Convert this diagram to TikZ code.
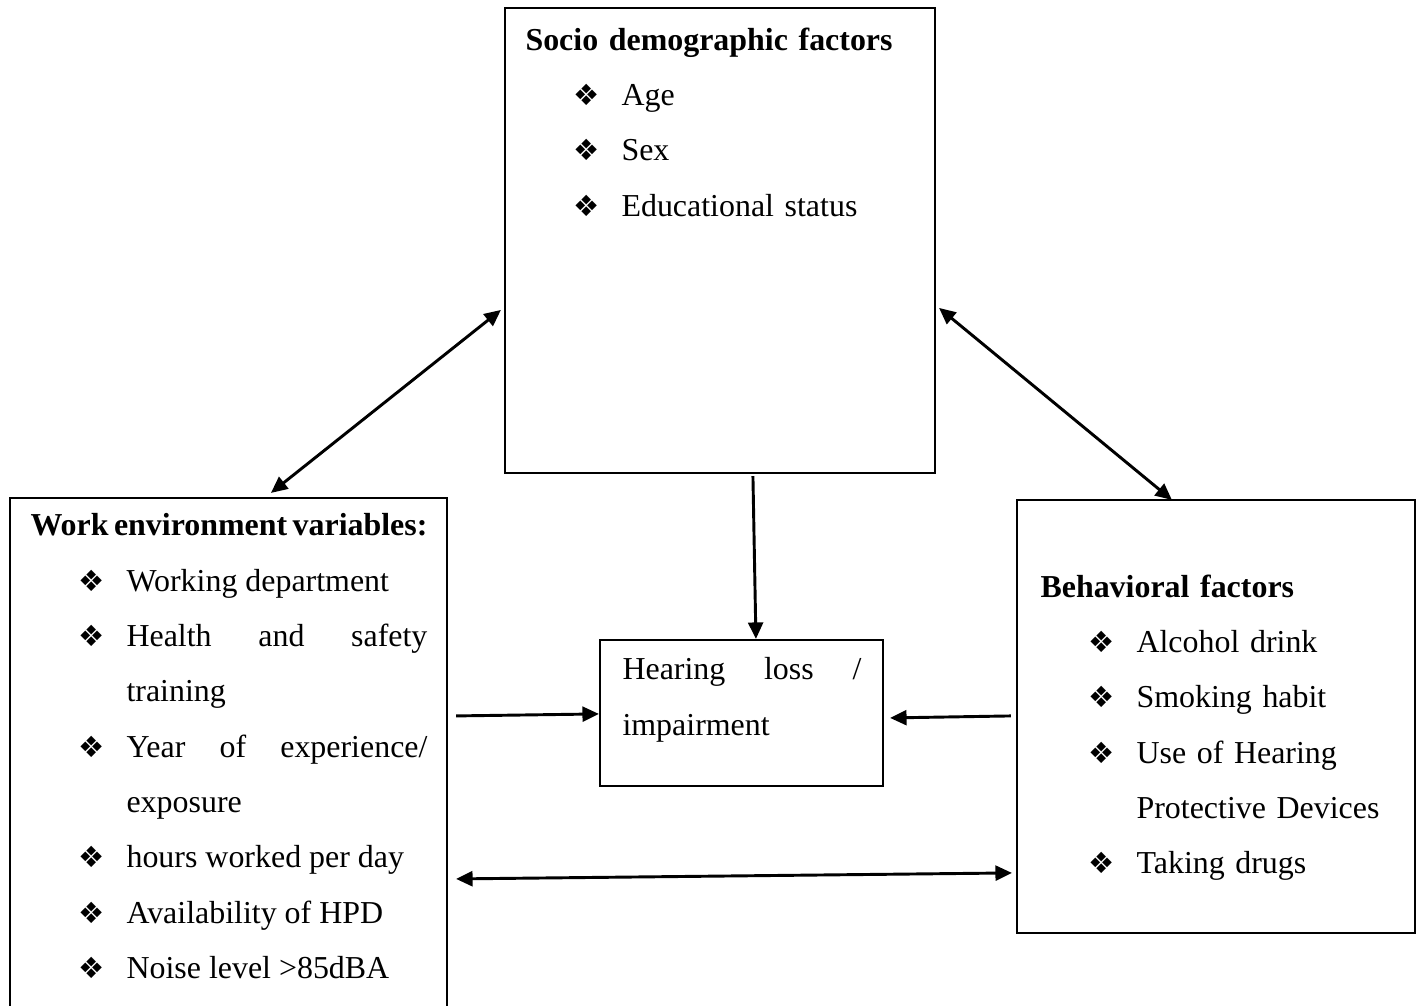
\documentclass[tikz,border=0pt]{standalone}
\usepackage{fontspec}
\setmainfont{Liberation Serif}
\newfontfamily\dingfont{DejaVu Sans}
\usetikzlibrary{arrows.meta,calc,fit}
\hyphenpenalty=10000
\tolerance=10000
\newcommand{\dingbul}{{\dingfont\fontsize{11}{11}\selectfont\char"2756\relax}}
\newcommand{\factoritem}{\par\leftskip=36.1pt\noindent\llap{\dingbul\hspace{8.3pt}}}
\tikzset{
  factorbox/.style={draw=black,line width=.8pt,inner sep=0pt},
  boxtext/.style={anchor=north west,inner sep=0pt,align=left,font=\fontsize{12}{20.8}\selectfont},
  link/.style={{Triangle[length=6.2pt,width=5.6pt]}-{Triangle[length=6.2pt,width=5.6pt]},line width=1.1pt},
  flow/.style={-{Triangle[length=6.2pt,width=5.6pt]},line width=1.1pt},
}
\begin{document}
\begin{tikzpicture}[x=0.3759pt,y=-0.3759pt]
  \useasboundingbox (0,0) rectangle (1416,1006);
  \clip (0,0) rectangle (1416,1006);

  % Factor boxes; the work box runs past the lower edge of the page.
  \node[factorbox,fit={(505,8) (935,473)}] (socio) {};
  \node[factorbox,fit={(10,498) (447,1012)}] (work) {};
  \node[factorbox,fit={(1017,500) (1415,933)}] (behav) {};
  \node[factorbox,fit={(600,640) (883,786)}] (hear) {};

  \node[boxtext,text width=146.6pt] (sociotext) at (525,27)
    {\textbf{Socio demographic factors}\factoritem Age\factoritem Sex\factoritem Educational status\par};
  \node[boxtext,align=justify,text width=149.2pt] (worktext) at (30,513)
    {\textbf{Work environment variables:}\factoritem Working department\factoritem Health and safety\linebreak training\factoritem Year of experience/\linebreak exposure\factoritem hours worked per day\factoritem Availability of HPD\factoritem Noise level >85dBA\par};
  \node[boxtext,text width=132.3pt] (behavtext) at (1040,574)
    {\textbf{Behavioral factors}\factoritem Alcohol drink\factoritem Smoking habit\factoritem Use of Hearing Protective Devices\factoritem Taking drugs\par};
  \node[boxtext,align=justify,text width=89.8pt] (heartext) at (622,657)
    {Hearing loss /\linebreak impairment\par};

  % Two-way links between the factor groups, one-way links into the outcome.
  \draw[link] ($(socio.north west)+(-3,303)$) -- ($(work.north west)+(262,-4)$);
  \draw[link] ($(socio.north east)+(3,301)$) -- ($(behav.north west)+(156,1)$);
  \draw[link] ($(work.north east)+(8,382)$) -- ($(behav.north west)+(-4,374)$);
  \draw[flow] ($(socio.south west)+(249,2)$) -- ($(hear.north west)+(157,0)$);
  \draw[flow] ($(work.north east)+(8,219)$) -- ($(hear.north west)+(0,75)$);
  \draw[flow] ($(behav.north west)+(-5,217)$) -- ($(hear.north east)+(6,79)$);
\end{tikzpicture}
\end{document}
